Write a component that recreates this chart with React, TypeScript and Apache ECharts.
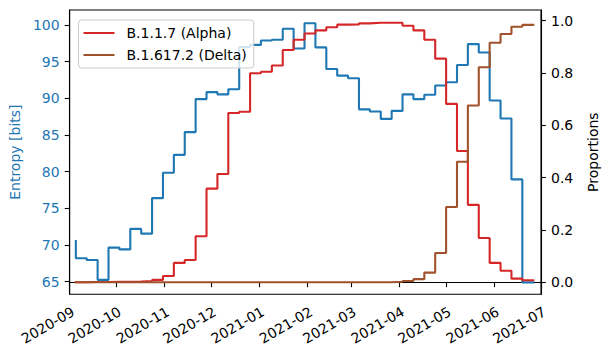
import React, { useEffect, useRef } from "react";
import * as echarts from "echarts";

const weeks: string[] = [
  "2020-09-05", "2020-09-12", "2020-09-19", "2020-09-26",
  "2020-10-03", "2020-10-10", "2020-10-17", "2020-10-24", "2020-10-31",
  "2020-11-07", "2020-11-14", "2020-11-21", "2020-11-28",
  "2020-12-05", "2020-12-12", "2020-12-19", "2020-12-26",
  "2021-01-02", "2021-01-09", "2021-01-16", "2021-01-23", "2021-01-30",
  "2021-02-06", "2021-02-13", "2021-02-20", "2021-02-27",
  "2021-03-06", "2021-03-13", "2021-03-20", "2021-03-27",
  "2021-04-03", "2021-04-10", "2021-04-17", "2021-04-24",
  "2021-05-01", "2021-05-08", "2021-05-15", "2021-05-22", "2021-05-29",
  "2021-06-05", "2021-06-12", "2021-06-19", "2021-06-26",
];

const entropy: number[] = [
  70.55, 68.2, 67.95, 65.25, 69.65, 69.4, 72.2, 71.55, 76.4, 79.85, 82.3,
  85.4, 89.9, 90.85, 90.55, 91.25, 97.0, 97.3, 97.9, 98.0, 99.5, 96.8, 100.25,
  96.95, 94.0, 93.1, 92.75, 88.5, 88.2, 87.2, 88.3, 90.55, 89.9, 90.5, 91.75,
  92.2, 94.55, 97.4, 96.25, 89.7, 87.25, 78.95, 64.9,
];

const alpha: number[] = [
  0, 0, 0.001, 0.001, 0.002, 0.002, 0.003, 0.005, 0.009, 0.024, 0.074, 0.085,
  0.176, 0.358, 0.414, 0.647, 0.652, 0.799, 0.805, 0.829, 0.888, 0.927, 0.951,
  0.963, 0.975, 0.985, 0.986, 0.99, 0.992, 0.992, 0.992, 0.981, 0.963, 0.927,
  0.855, 0.682, 0.502, 0.296, 0.169, 0.074, 0.044, 0.014, 0.008,
];

const delta: number[] = [
  0, 0, 0, 0, 0, 0, 0, 0, 0, 0, 0, 0, 0, 0, 0, 0, 0, 0, 0, 0, 0, 0, 0, 0, 0,
  0, 0, 0, 0, 0, 0.002, 0.005, 0.012, 0.037, 0.112, 0.288, 0.461, 0.676, 0.822,
  0.916, 0.949, 0.977, 0.984,
];

const monthTicks: string[] = [
  "2020-09-01", "2020-10-01", "2020-11-01", "2020-12-01", "2021-01-01",
  "2021-02-01", "2021-03-01", "2021-04-01", "2021-05-01", "2021-06-01",
  "2021-07-01",
];
const entropyTicks: number[] = [65, 70, 75, 80, 85, 90, 95, 100];
const propTicks: number[] = [0, 0.2, 0.4, 0.6, 0.8, 1.0];

const seriesNames = ["Entropy", "B.1.1.7 (Alpha)", "B.1.617.2 (Delta)"];

const ts = (s: string) => {
  const [y, m, d] = s.split("-").map(Number);
  return Date.UTC(y, m - 1, d);
};

const FONT = "DejaVu Sans";
const FS = 14;

export default function App() {
  const ref = useRef<HTMLDivElement>(null);
  useEffect(() => {
    if (!ref.current) return;
    const chart = echarts.init(ref.current, undefined, { renderer: "svg" });
    const monthVals = monthTicks.map(ts);
    const mk = (vals: number[]) => weeks.map((w, i) => [ts(w), vals[i]]);
    chart.setOption({
      animation: false,
      backgroundColor: "#fff",
      textStyle: { fontFamily: FONT },
      grid: {
        left: 68.7,
        right: 51.3,
        top: 10,
        bottom: 55.7,
        show: true,
        borderColor: "#000",
        borderWidth: 1.1,
        backgroundColor: "transparent",
      },
      legend: {
        data: [seriesNames[1], seriesNames[2]],
        orient: "vertical",
        left: 78.5,
        top: 20,
        padding: [6, 7, 6, 5],
        itemGap: 8,
        itemWidth: 31,
        itemHeight: 2,
        icon: "rect",
        backgroundColor: "rgba(255,255,255,0.8)",
        borderColor: "#cccccc",
        borderWidth: 1,
        borderRadius: 3,
        textStyle: {
          fontFamily: FONT,
          fontSize: FS,
          color: "#000",
          lineHeight: 14,
          padding: [0, 0, 0, 7],
        },
      },
      xAxis: {
        type: "value",
        min: ts("2020-09-01"),
        max: ts("2021-07-01"),
        splitLine: { show: false },
        axisLine: { show: true, lineStyle: { color: "#000", width: 1.1 } },
        axisTick: {
          show: true,
          length: 4.9,
          lineStyle: { color: "#000", width: 1.1 },
          customValues: monthVals,
        },
        axisLabel: {
          customValues: monthVals,
          rotate: 30,
          margin: 10,
          align: "right",
          verticalAlign: "top",
          fontFamily: FONT,
          fontSize: FS,
          color: "#000",
          hideOverlap: false,
          formatter: (v: number) => {
            const d = new Date(v);
            return `${d.getUTCFullYear()}-${String(d.getUTCMonth() + 1).padStart(2, "0")}`;
          },
        },
      },
      yAxis: [
        {
          type: "value",
          position: "left",
          min: 63.28,
          max: 102.05,
          name: "Entropy [bits]",
          nameLocation: "middle",
          nameRotate: 90,
          nameGap: 44,
          nameTextStyle: { fontFamily: FONT, fontSize: FS, color: "#1f77b4" },
          splitLine: { show: false },
          axisLine: { show: true, lineStyle: { color: "#000", width: 1.1 } },
          axisTick: {
            show: true,
            length: 4.9,
            lineStyle: { color: "#000", width: 1.1 },
            customValues: entropyTicks,
          },
          axisLabel: {
            customValues: entropyTicks,
            margin: 10,
            fontFamily: FONT,
            fontSize: FS,
            color: "#1f77b4",
          },
        },
        {
          type: "value",
          position: "right",
          min: -0.046,
          max: 1.041,
          name: "Proportions",
          nameLocation: "middle",
          nameRotate: 90,
          nameGap: 45,
          nameTextStyle: { fontFamily: FONT, fontSize: FS, color: "#000" },
          splitLine: { show: false },
          axisLine: { show: true, lineStyle: { color: "#000", width: 1.1 } },
          axisTick: {
            show: true,
            length: 4.9,
            lineStyle: { color: "#000", width: 1.1 },
            customValues: propTicks,
          },
          axisLabel: {
            customValues: propTicks,
            margin: 10,
            fontFamily: FONT,
            fontSize: FS,
            color: "#000",
            formatter: (v: number) => v.toFixed(1),
          },
        },
      ],
      series: [
        {
          name: seriesNames[0],
          type: "line",
          yAxisIndex: 0,
          step: "start",
          symbol: "none",
          data: mk(entropy),
          lineStyle: { color: "#1f77b4", width: 2.1, cap: "square" },
          itemStyle: { color: "#1f77b4" },
        },
        {
          name: seriesNames[1],
          type: "line",
          yAxisIndex: 1,
          step: "start",
          symbol: "none",
          data: mk(alpha),
          lineStyle: { color: "#d62728", width: 2.1, cap: "square" },
          itemStyle: { color: "#d62728" },
        },
        {
          name: seriesNames[2],
          type: "line",
          yAxisIndex: 1,
          step: "start",
          symbol: "none",
          data: mk(delta),
          lineStyle: { color: "#a0522d", width: 2.1, cap: "square" },
          itemStyle: { color: "#a0522d" },
        },
      ],
    });
    return () => chart.dispose();
  }, []);
  return (
    <div
      ref={ref}
      style={{ position: "fixed", left: 0, top: 0, width: 608, height: 350 }}
    />
  );
}
